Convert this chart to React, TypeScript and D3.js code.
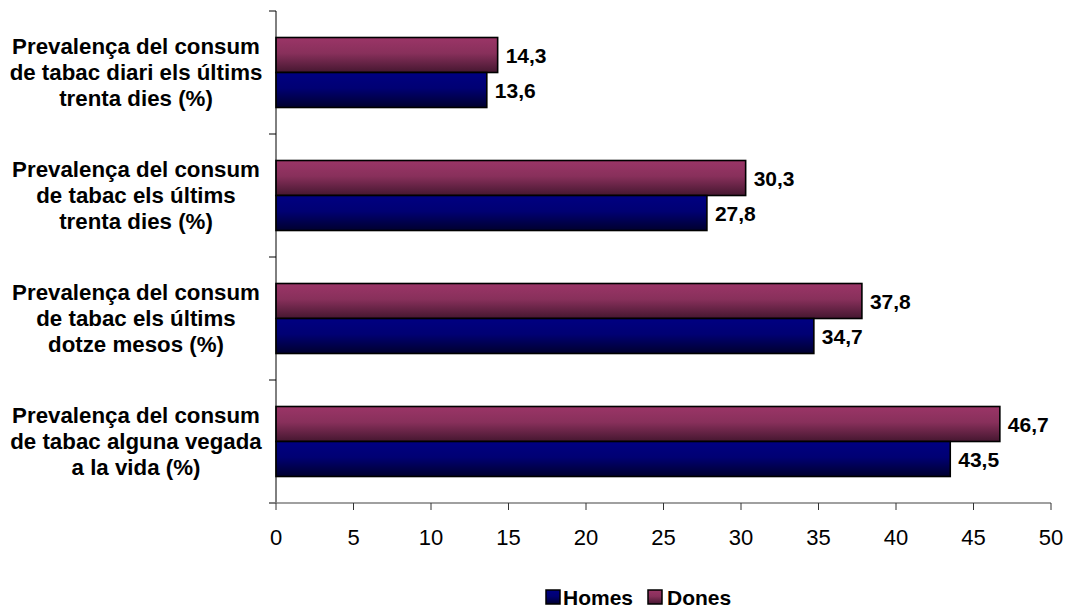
import React from "react";
import * as d3 from "d3";

const categories = [
  ["Prevalença del consum", "de tabac diari els últims", "trenta dies (%)"],
  ["Prevalença del consum", "de tabac els últims", "trenta dies (%)"],
  ["Prevalença del consum", "de tabac els últims", "dotze mesos (%)"],
  ["Prevalença del consum", "de tabac alguna vegada", "a la vida (%)"],
];
const homes = [13.6, 27.8, 34.7, 43.5];
const dones = [14.3, 30.3, 37.8, 46.7];
const xTicks = [0, 5, 10, 15, 20, 25, 30, 35, 40, 45, 50];
const seriesNames = ["Homes", "Dones"];

const fmt = (v: number) => v.toFixed(1).replace(".", ",");

export default function App() {
  const W = 1074, H = 610;
  const x = d3.scaleLinear().domain([0, 50]).range([276, 1051]);
  const y = d3.scaleBand<number>().domain(d3.range(categories.length)).range([11, 503]);
  const bw = y.bandwidth();
  const barH = 35;
  const font = "'Liberation Sans', Arial, sans-serif";

  return (
    <svg width={W} height={H} style={{ position: "absolute", left: 0, top: 0 }} fontFamily={font}>
      <defs>
        <linearGradient id="gD" x1="0" y1="0" x2="0" y2="1">
          <stop offset="0" stopColor="#9b3567" />
          <stop offset="0.45" stopColor="#88305b" />
          <stop offset="1" stopColor="#451730" />
        </linearGradient>
        <linearGradient id="gH" x1="0" y1="0" x2="0" y2="1">
          <stop offset="0" stopColor="#000082" />
          <stop offset="0.45" stopColor="#000073" />
          <stop offset="1" stopColor="#00002e" />
        </linearGradient>
      </defs>
      {categories.map((lines, i) => {
        const cy = (y(i) as number) + bw / 2;
        return (
          <g key={i}>
            <rect x={x(0)} y={cy - barH} width={x(dones[i]) - x(0)} height={barH}
              fill="url(#gD)" stroke="#000" strokeWidth={1.6} />
            <rect x={x(0)} y={cy} width={x(homes[i]) - x(0)} height={barH}
              fill="url(#gH)" stroke="#000" strokeWidth={1.6} />
            <text x={x(dones[i]) + 8} y={cy - barH / 2 + 7.5} fontSize={21} fontWeight="bold">{fmt(dones[i])}</text>
            <text x={x(homes[i]) + 8} y={cy + barH / 2 + 7.5} fontSize={21} fontWeight="bold">{fmt(homes[i])}</text>
            {lines.map((l, j) => (
              <text key={j} transform={`translate(136,${cy + (j - 1) * 26 + 7}) scale(0.97,1)`}
                fontSize={23} fontWeight="bold" textAnchor="middle">{l}</text>
            ))}
          </g>
        );
      })}
      {/* y axis */}
      <line x1={x(0)} x2={x(0)} y1={11} y2={503} stroke="#000" strokeWidth={1} />
      {d3.range(categories.length + 1).map((i) => {
        const yy = i < categories.length ? (y(i) as number) : 503;
        return <line key={i} x1={x(0) - 7} x2={x(0)} y1={yy} y2={yy} stroke="#000" strokeWidth={1} />;
      })}
      {/* x axis */}
      <line x1={x(0) - 7} x2={x(50)} y1={503} y2={503} stroke="#808080" strokeWidth={1.5} />
      {xTicks.map((t) => (
        <g key={t}>
          <line x1={x(t)} x2={x(t)} y1={503} y2={510} stroke="#333" strokeWidth={1} />
          <text x={x(t)} y={545} fontSize={22} textAnchor="middle">{t}</text>
        </g>
      ))}
      {/* legend */}
      <g>
        <rect x={546} y={590} width={14} height={14} fill="url(#gH)" stroke="#000" strokeWidth={1.5} />
        <text x={563} y={605} fontSize={21} fontWeight="bold">{seriesNames[0]}</text>
        <rect x={648} y={590} width={14} height={14} fill="url(#gD)" stroke="#000" strokeWidth={1.5} />
        <text x={667} y={605} fontSize={21} fontWeight="bold">{seriesNames[1]}</text>
      </g>
    </svg>
  );
}
